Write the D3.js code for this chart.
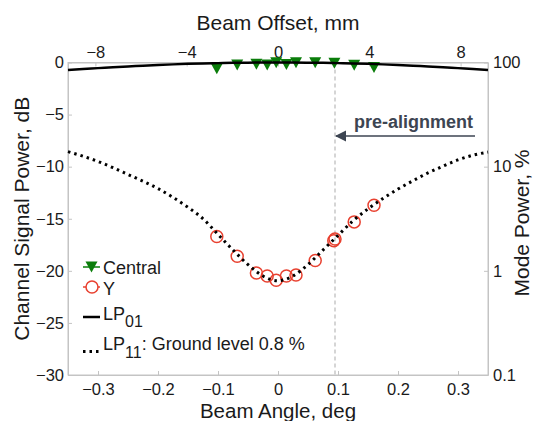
<!DOCTYPE html>
<html>
<head>
<meta charset="utf-8">
<script src="https://cdn.jsdelivr.net/npm/d3@7"></script>
<style>
  body { margin: 0; background: #fff; }
  svg { font-family: "Liberation Sans", Arial, sans-serif; }
</style>
</head>
<body>
<div id="chart"></div>
<script>
// measured points (beam angle, deg)
const angleDeg = [-0.102, -0.068, -0.036, -0.018, -0.003, 0.014, 0.030, 0.062, 0.094, 0.127, 0.160];
const centralDb = [-0.6, -0.24, -0.16, -0.24, -0.03, -0.2, -0.03, -0.03, -0.08, -0.27, -0.48];
const yAngleDeg = [-0.102, -0.068, -0.036, -0.018, -0.003, 0.014, 0.030, 0.062, 0.093, 0.095, 0.127, 0.160];
const yDb = [-16.7, -18.6, -20.2, -20.5, -20.9, -20.5, -20.4, -19.0, -17.1, -16.95, -15.3, -13.7];

// model curves
const curveDeg = [-0.35, -0.325, -0.3, -0.275, -0.25, -0.225, -0.2, -0.175, -0.15, -0.125, -0.1, -0.075, -0.05, -0.025, 0,
                  0.025, 0.05, 0.075, 0.1, 0.125, 0.15, 0.175, 0.2, 0.225, 0.25, 0.275, 0.3, 0.325, 0.35];
const lp01Db = [-0.72, -0.62, -0.54, -0.45, -0.38, -0.31, -0.24, -0.18, -0.13, -0.09, -0.06, -0.03, -0.015, -0.004, 0,
                -0.004, -0.015, -0.03, -0.06, -0.09, -0.13, -0.18, -0.24, -0.31, -0.38, -0.45, -0.54, -0.62, -0.72];
const lp11Db = [-8.56, -9.0, -9.5, -10.1, -10.75, -11.4, -12.1, -12.95, -13.9, -15.0, -16.5, -18.0, -19.4, -20.5, -20.95,
                -20.5, -19.4, -18.0, -16.6, -15.2, -14.05, -13.05, -12.15, -11.35, -10.6, -9.95, -9.35, -8.9, -8.6];

// tick labels
const angleTicks = [-0.3, -0.2, -0.1, 0, 0.1, 0.2, 0.3];
const offsetTicks = [-8, -4, 0, 4, 8];
const dbTicks = [-30, -25, -20, -15, -10, -5, 0];
const percentTicks = [0.1, 1, 10, 100];
const preAlignDeg = 0.095;

const W = 535, H = 421;
const mLeft = 68, mRight = 488, mTop = 62.5, mBottom = 375;

const x = d3.scaleLinear().domain([-0.35, 0.35]).range([mLeft, mRight]);
const xTop = d3.scaleLinear().domain([-9.2, 9.2]).range([mLeft, mRight]);
const y = d3.scaleLinear().domain([-30, 0]).range([mBottom, mTop]);
const yR = d3.scaleLog().domain([0.1, 100]).range([mBottom, mTop]);

const svg = d3.select("#chart").append("svg")
    .attr("width", W)
    .attr("height", H);

const axisColor = "#c4c4c4";
const textColor = "#1a1a1a";
const fmt = d3.format("~g");

function styleAxis(g) {
    g.selectAll(".domain").attr("stroke", axisColor);
    g.selectAll(".tick line").attr("stroke", axisColor);
    g.selectAll(".tick text").attr("fill", textColor).attr("font-size", 16.5);
    g.attr("font-family", null);
}

// box
svg.append("rect")
    .attr("x", mLeft).attr("y", mTop)
    .attr("width", mRight - mLeft).attr("height", mBottom - mTop)
    .attr("fill", "none").attr("stroke", axisColor);

svg.append("g")
    .attr("transform", "translate(0," + mBottom + ")")
    .call(d3.axisBottom(x).tickValues(angleTicks).tickFormat(fmt).tickSizeInner(-4).tickSizeOuter(0).tickPadding(8))
    .call(styleAxis);

svg.append("g")
    .attr("transform", "translate(0," + mTop + ")")
    .call(d3.axisTop(xTop).tickValues(offsetTicks).tickFormat(fmt).tickSizeInner(-4).tickSizeOuter(0).tickPadding(5))
    .call(styleAxis);

svg.append("g")
    .attr("transform", "translate(" + mLeft + ",0)")
    .call(d3.axisLeft(y).tickValues(dbTicks).tickSizeInner(-4).tickSizeOuter(0).tickPadding(4))
    .call(styleAxis);

svg.append("g")
    .attr("transform", "translate(" + mRight + ",0)")
    .call(d3.axisRight(yR).tickValues(percentTicks).tickFormat(fmt).tickSizeInner(-4).tickSizeOuter(0).tickPadding(5))
    .call(styleAxis);

// pre-alignment marker line
svg.append("line")
    .attr("x1", x(preAlignDeg)).attr("x2", x(preAlignDeg))
    .attr("y1", mTop).attr("y2", mBottom)
    .attr("stroke", "#c8c8c8").attr("stroke-width", 1.5)
    .attr("stroke-dasharray", "4,3");

svg.append("defs").append("marker")
    .attr("id", "arrow")
    .attr("viewBox", "0 0 10 10")
    .attr("refX", 9).attr("refY", 5)
    .attr("markerWidth", 7).attr("markerHeight", 7)
    .attr("orient", "auto")
    .append("path")
    .attr("d", "M0,0 L10,5 L0,10 Z")
    .attr("fill", "#3d4552");

svg.append("line")
    .attr("x1", 475).attr("x2", x(preAlignDeg) + 1)
    .attr("y1", 136).attr("y2", 136)
    .attr("stroke", "#3d4552").attr("stroke-width", 1.6)
    .attr("marker-end", "url(#arrow)");

svg.append("text")
    .attr("x", 473).attr("y", 128)
    .attr("text-anchor", "end")
    .attr("font-size", 18).attr("font-weight", "bold")
    .attr("fill", "#3d4552")
    .text("pre-alignment");

const plot = svg.append("g");
const green = "#0a7d0a", red = "#e8402f";
const tri = "M-6,-5.5L6,-5.5L0,5.5Z";

plot.selectAll(".central")
    .data(angleDeg)
    .enter().append("path")
    .attr("class", "central")
    .attr("d", tri)
    .attr("transform", (d, i) => "translate(" + x(d) + "," + y(centralDb[i]) + ")")
    .attr("fill", green);

plot.selectAll(".ypt")
    .data(yAngleDeg)
    .enter().append("circle")
    .attr("class", "ypt")
    .attr("cx", d => x(d))
    .attr("cy", (d, i) => y(yDb[i]))
    .attr("r", 6)
    .attr("fill", "none")
    .attr("stroke", red)
    .attr("stroke-width", 1.5);

const line = d3.line().curve(d3.curveMonotoneX);

plot.append("path")
    .attr("d", line(curveDeg.map((d, i) => [x(d), y(lp01Db[i])])))
    .attr("fill", "none").attr("stroke", "#000").attr("stroke-width", 2.5);

plot.append("path")
    .attr("d", line(curveDeg.map((d, i) => [x(d), y(lp11Db[i])])))
    .attr("fill", "none").attr("stroke", "#000").attr("stroke-width", 3)
    .attr("stroke-dasharray", "2.5,4");

// legend
const lg = svg.append("g").attr("fill", textColor).attr("font-size", 18);
lg.append("line").attr("x1", 83).attr("x2", 100).attr("y1", 267).attr("y2", 267)
    .attr("stroke", green).attr("stroke-width", 1.5);
lg.append("path").attr("d", tri).attr("transform", "translate(91.5,267)").attr("fill", green);
lg.append("text").attr("x", 103).attr("y", 274).text("Central");

lg.append("line").attr("x1", 83).attr("x2", 100).attr("y1", 287).attr("y2", 287)
    .attr("stroke", red).attr("stroke-width", 1.5);
lg.append("circle").attr("cx", 92).attr("cy", 287).attr("r", 6)
    .attr("fill", "#fff").attr("stroke", red).attr("stroke-width", 1.5);
lg.append("text").attr("x", 103).attr("y", 295).text("Y");

lg.append("line").attr("x1", 83).attr("x2", 100).attr("y1", 317).attr("y2", 317)
    .attr("stroke", "#000").attr("stroke-width", 2.5);
const t1 = lg.append("text").attr("x", 103).attr("y", 320);
t1.append("tspan").text("LP");
t1.append("tspan").attr("dy", 7).attr("font-size", 16).text("01");

lg.append("line").attr("x1", 83).attr("x2", 101).attr("y1", 351.5).attr("y2", 351.5)
    .attr("stroke", "#000").attr("stroke-width", 3).attr("stroke-dasharray", "2.5,4");
const t2 = lg.append("text").attr("x", 103).attr("y", 350);
t2.append("tspan").text("LP");
t2.append("tspan").attr("dy", 8).attr("font-size", 16).text("11");
t2.append("tspan").attr("dy", -8).text(": Ground level 0.8 %");

// axis titles
svg.append("text")
    .attr("x", (mLeft + mRight) / 2).attr("y", 30)
    .attr("text-anchor", "middle").attr("font-size", 21).attr("fill", textColor)
    .text("Beam Offset, mm");

svg.append("text")
    .attr("x", (mLeft + mRight) / 2).attr("y", 417.5)
    .attr("text-anchor", "middle").attr("font-size", 20.5).attr("fill", textColor)
    .text("Beam Angle, deg");

svg.append("text")
    .attr("transform", "translate(29," + (mTop + mBottom) / 2 + ") rotate(-90)")
    .attr("text-anchor", "middle").attr("font-size", 21).attr("fill", textColor)
    .text("Channel Signal Power, dB");

svg.append("text")
    .attr("transform", "translate(529," + 223 + ") rotate(-90)")
    .attr("text-anchor", "middle").attr("font-size", 21).attr("fill", textColor)
    .text("Mode Power, %");
</script>
</body>
</html>
